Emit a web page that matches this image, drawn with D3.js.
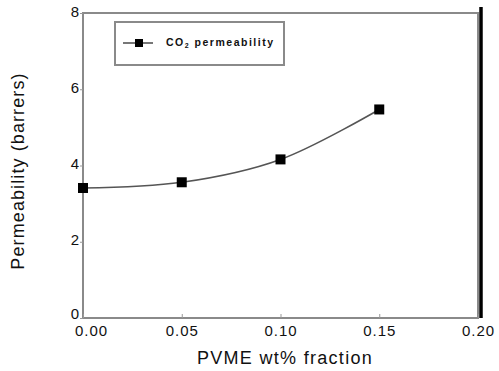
<!DOCTYPE html>
<html><head><meta charset="utf-8">
<script src="https://cdn.jsdelivr.net/npm/d3@7/dist/d3.min.js"></script>
<style>body{margin:0;background:#fff}svg{display:block}</style>
</head><body>
<svg id="c" width="499" height="371"></svg>
<script>
const xValues = [0.00, 0.05, 0.10, 0.15];
const permeability = [3.41, 3.56, 4.16, 5.47];
const xTicks = [0.00, 0.05, 0.10, 0.15, 0.20];
const yTicks = [0, 2, 4, 6, 8];
const seriesName = "CO₂ permeability";

const svg = d3.select("#c");
const L = 83, R = 478, T = 13, B = 318;
const x = d3.scaleLinear().domain([0, 0.20]).range([L, R]);
const y = d3.scaleLinear().domain([0, 8]).range([B, T]);
const font = "Arial, 'Liberation Sans', Helvetica, sans-serif";

// frame
svg.append("rect").attr("x", L).attr("y", T).attr("width", R - L).attr("height", B - T)
  .attr("fill", "none").attr("stroke", "#8a8a8a").attr("stroke-width", 2);
svg.append("line").attr("x1", x(0.20) + 3).attr("x2", x(0.20) + 3).attr("y1", 7).attr("y2", B)
  .attr("stroke", "#000").attr("stroke-width", 3.5);

// axes
const xAxis = svg.append("g").attr("transform", `translate(0,${B})`)
  .call(d3.axisBottom(x).tickValues(xTicks).tickFormat(d3.format(".2f")).tickSize(-4).tickPadding(8.7));
xAxis.select(".domain").remove();
xAxis.selectAll(".tick line").attr("stroke", "#999");
xAxis.selectAll("text").attr("font-family", font).attr("font-size", 15).attr("fill", "#111")
  .attr("letter-spacing", "1px").attr("dy", "0.62em");
xAxis.selectAll(".tick").filter(d => d === 0).select("text").attr("dx", 8);

const yAxis = svg.append("g").attr("transform", `translate(${L},0)`)
  .call(d3.axisLeft(y).tickValues(yTicks).tickFormat(d3.format("d")).tickSize(3).tickPadding(1));
yAxis.select(".domain").remove();
yAxis.selectAll(".tick line").attr("stroke", "#999");
yAxis.selectAll("text").attr("font-family", font).attr("font-size", 15).attr("fill", "#111")
  .attr("dy", d => d === 0 ? "0.03em" : "0.2em");

// titles
svg.append("text").attr("x", 285).attr("y", 364).attr("text-anchor", "middle")
  .attr("font-family", font).attr("font-size", 18).attr("letter-spacing", "1.3px").attr("fill", "#111")
  .text("PVME wt% fraction");
svg.append("text").attr("transform", "translate(24,171) rotate(-90)").attr("text-anchor", "middle")
  .attr("font-family", font).attr("font-size", 18).attr("letter-spacing", "1.1px").attr("fill", "#111")
  .text("Permeability (barrers)");

// line
const data = xValues.map((v, i) => ({x: v, y: permeability[i]}));
svg.append("path").datum(data)
  .attr("d", d3.line().x(d => x(d.x)).y(d => y(d.y)).curve(d3.curveCatmullRom.alpha(0.5)))
  .attr("fill", "none").attr("stroke", "#555").attr("stroke-width", 1.6);
svg.selectAll("rect.pt").data(data).enter().append("rect").attr("class", "pt")
  .attr("x", d => x(d.x) - 5).attr("y", d => y(d.y) - 5).attr("width", 10).attr("height", 10)
  .attr("fill", "#000");

// legend
const lg = svg.append("g");
lg.append("rect").attr("x", 115).attr("y", 22).attr("width", 169).attr("height", 43)
  .attr("fill", "#fff").attr("stroke", "#8a8a8a").attr("stroke-width", 2);
lg.append("line").attr("x1", 123).attr("x2", 153).attr("y1", 43).attr("y2", 43)
  .attr("stroke", "#555").attr("stroke-width", 1.6);
lg.append("rect").attr("x", 135).attr("y", 39).attr("width", 8).attr("height", 8).attr("fill", "#000");
const lt = lg.append("text").attr("x", 166).attr("y", 46).attr("font-family", font)
  .attr("font-size", 10.5).attr("font-weight", "bold").attr("fill", "#111")
  .attr("textLength", 107).attr("lengthAdjust", "spacing");
lt.append("tspan").text("CO");
lt.append("tspan").attr("font-size", 7).attr("dy", 2).text("2");
lt.append("tspan").attr("dy", -2).text(" permeability");
</script>
</body></html>
